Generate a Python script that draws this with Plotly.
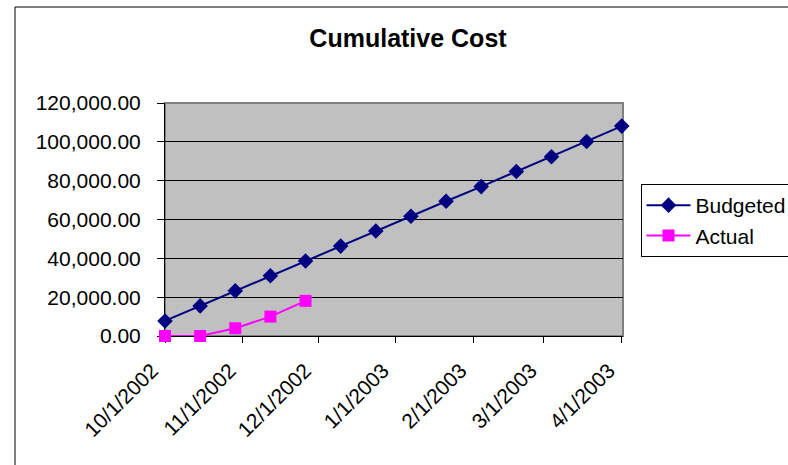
import plotly.graph_objects as go

# ---- data -------------------------------------------------------------
dates = [
    "2002-10-01", "2002-10-15", "2002-10-29", "2002-11-12", "2002-11-26",
    "2002-12-10", "2002-12-24", "2003-01-07", "2003-01-21", "2003-02-04",
    "2003-02-18", "2003-03-04", "2003-03-18", "2003-04-01",
]
budgeted = [7750, 15500, 23250, 31000, 38600, 46300, 54050,
            61650, 69400, 76950, 84700, 92300, 100150, 108100]
actual_dates = dates[:5]
actual = [0, 0, 4000, 10000, 18100]

month_ticks = ["2002-10-01", "2002-11-01", "2002-12-01", "2003-01-01",
               "2003-02-01", "2003-03-01", "2003-04-01"]
month_labels = ["10/1/2002", "11/1/2002", "12/1/2002", "1/1/2003",
                "2/1/2003", "3/1/2003", "4/1/2003"]

# ---- layout geometry (pixels) ----------------------------------------
W, H = 788, 465
PLOT_L, PLOT_R, PLOT_T, PLOT_B = 165, 623, 103, 336
FONT = "Arial, Liberation Sans, sans-serif"


def px_x(p):
    return p / W


def px_y(p):
    return 1 - p / H


fig = go.Figure()

fig.add_trace(go.Scatter(
    x=dates, y=budgeted, name="Budgeted", mode="lines+markers",
    line=dict(color="#000080", width=2),
    marker=dict(symbol="diamond", size=12, color="#000080"),
    cliponaxis=False,
))
fig.add_trace(go.Scatter(
    x=actual_dates, y=actual, name="Actual", mode="lines+markers",
    line=dict(color="#FF00FF", width=2),
    marker=dict(symbol="square", size=12, color="#FF00FF"),
    cliponaxis=False,
))

fig.update_layout(
    width=W, height=H,
    margin=dict(l=0, r=0, t=0, b=0, autoexpand=False),
    paper_bgcolor="white",
    plot_bgcolor="rgba(0,0,0,0)",
    font=dict(family=FONT, size=21, color="black"),
    title=dict(
        text="<b>Cumulative Cost</b>",
        font=dict(family=FONT, size=25, color="black"),
        x=px_x(408), xanchor="center", xref="paper",
        y=px_y(38), yanchor="middle", yref="container",
    ),
    xaxis=dict(
        type="date",
        domain=[px_x(PLOT_L), px_x(PLOT_R)],
        range=["2002-10-01", "2003-04-01 12:00"],
        tickmode="array", tickvals=month_ticks, ticktext=month_labels,
        tickangle=-45, ticks="outside", ticklen=6, tickcolor="black",
        tickfont=dict(family=FONT, size=21),
        ticklabelstandoff=7, ticklabelshift=-13,
        showgrid=False, zeroline=False,
        showline=True, linecolor="black", linewidth=1,
        layer="below traces",
        fixedrange=True,
    ),
    yaxis=dict(
        domain=[px_y(PLOT_B), px_y(PLOT_T)],
        range=[0, 120000], dtick=20000, tickformat=",.2f",
        ticks="outside", ticklen=7, tickcolor="black",
        tickfont=dict(family=FONT, size=21),
        ticklabelstandoff=12,
        showgrid=True, gridcolor="black", gridwidth=1,
        zeroline=False,
        showline=True, linecolor="black", linewidth=1,
        layer="below traces",
        fixedrange=True,
    ),
    showlegend=True,
    legend=dict(
        x=px_x(640.5), xanchor="left", xref="paper",
        y=px_y(184), yanchor="top", yref="paper",
        bgcolor="white", bordercolor="black", borderwidth=1,
        font=dict(family=FONT, size=21, color="black"),
        itemwidth=44,
    ),
    shapes=[
        # chart frame
        dict(type="rect", xref="paper", yref="paper",
             x0=px_x(15), x1=px_x(W + 20), y0=px_y(H + 20), y1=px_y(7),
             line=dict(color="black", width=1), layer="below"),
        # plot area fill and border
        dict(type="rect", xref="x domain", yref="y domain",
             x0=0, x1=1, y0=0, y1=1, fillcolor="#C0C0C0",
             line=dict(color="#808080", width=2), layer="below"),
    ],
)

fig.write_html("out.html")
